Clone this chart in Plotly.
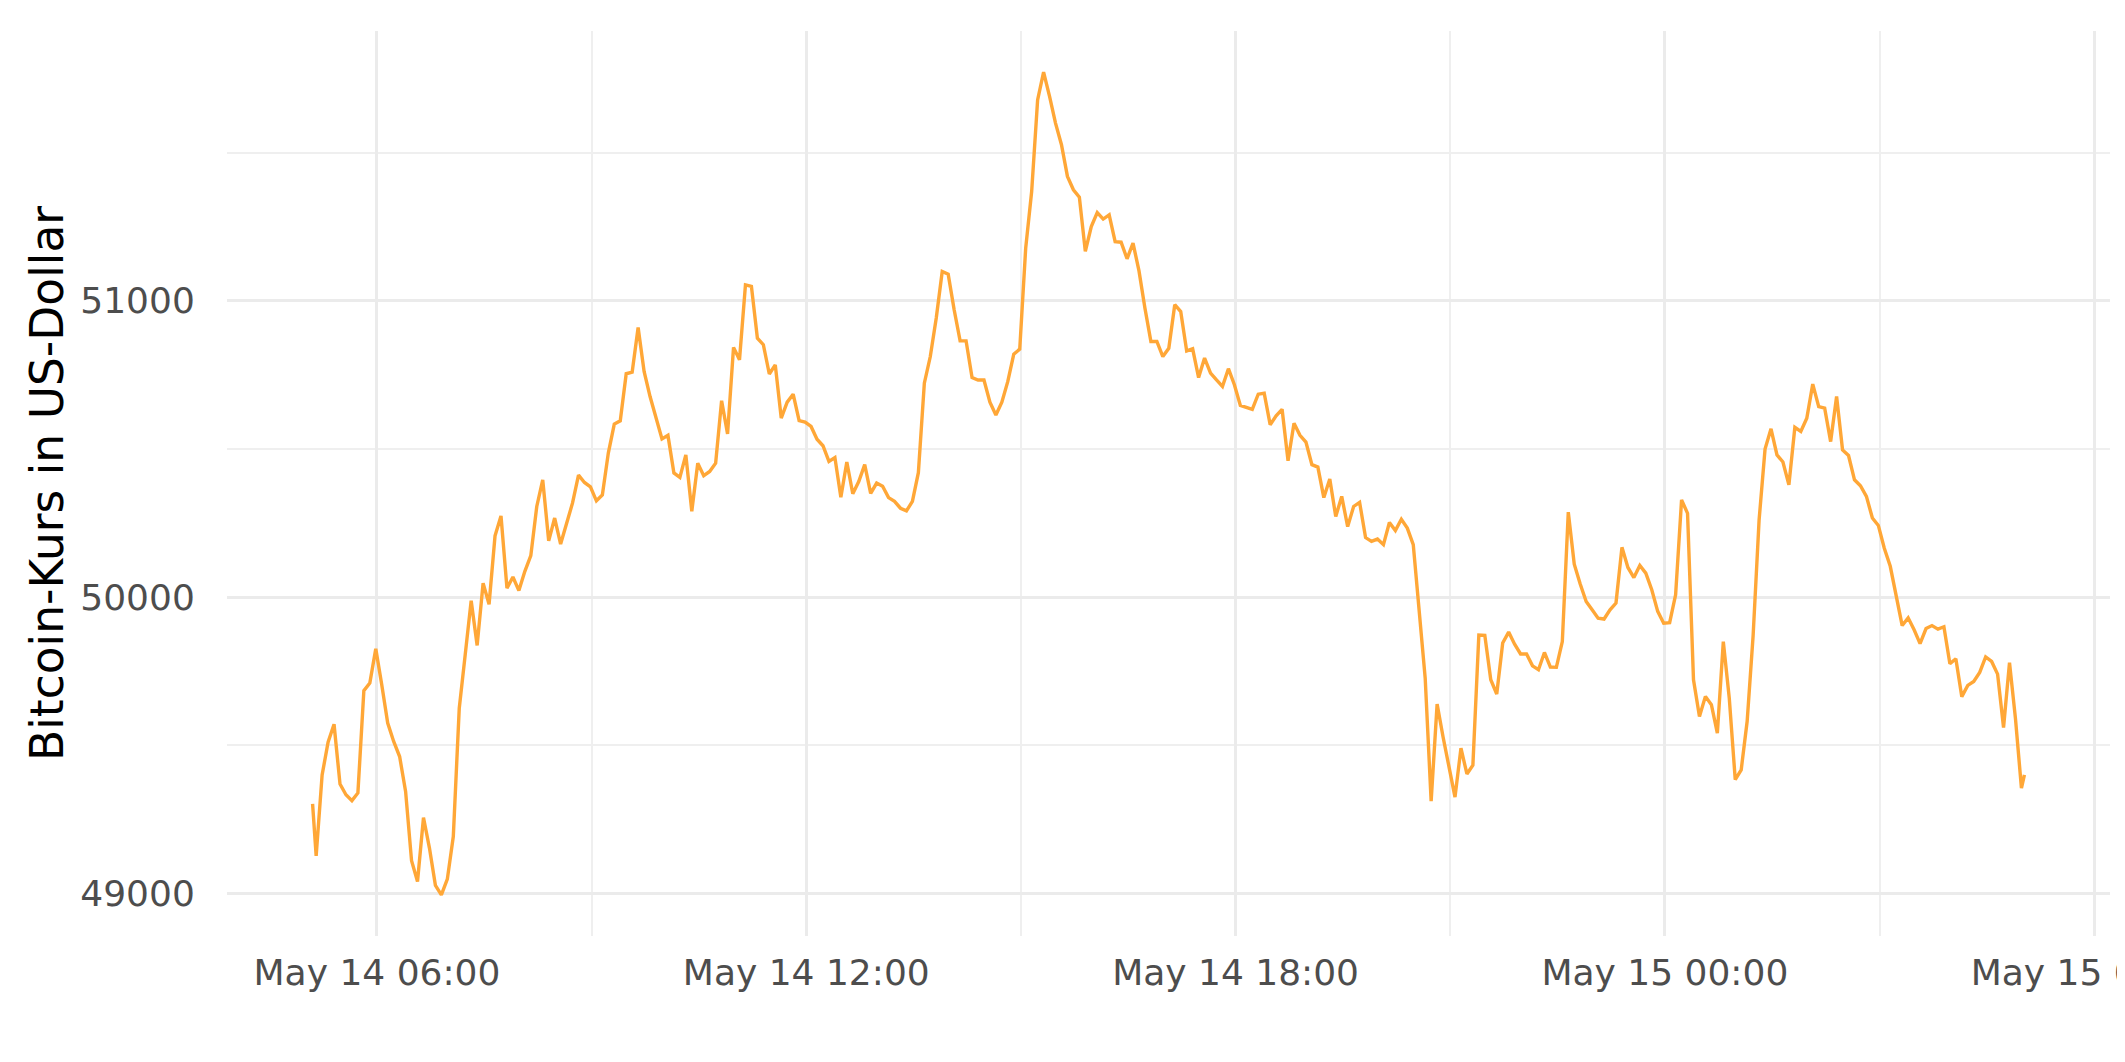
import pandas as pd
import plotly.graph_objects as go

# ---- data ----
first_time = "2021-05-14 05:06:00"
first_price = 49302
grid_start = "2021-05-14 05:09:00"
grid_end = "2021-05-15 04:59:00"
last_time = "2021-05-15 05:01:30"
last_price = 49400

grid_prices = [
    # 05:09 .. 05:59
    49127, 49400, 49510, 49571, 49369, 49333, 49313, 49339, 49684, 49710, 49826,
    # 06
    49704, 49575, 49513, 49462, 49344, 49110, 49040, 49256, 49153, 49027, 48995, 49048,
    # 07
    49192, 49625, 49806, 49988, 49837, 50047, 49976, 50207, 50274, 50030, 50068, 50022,
    # 08
    50087, 50140, 50306, 50396, 50190, 50267, 50179, 50244, 50318, 50412, 50387, 50372,
    # 09
    50325, 50345, 50486, 50584, 50595, 50754, 50759, 50910, 50762, 50677, 50604, 50534,
    # 10
    50546, 50419, 50404, 50480, 50290, 50452, 50410, 50424, 50452, 50663, 50551, 50843,
    # 11
    50801, 51054, 51049, 50874, 50852, 50753, 50784, 50604, 50658, 50685, 50596, 50591,
    # 12
    50576, 50533, 50511, 50458, 50471, 50337, 50456, 50349, 50390, 50447, 50350, 50385,
    # 13
    50374, 50336, 50323, 50300, 50291, 50323, 50420, 50722, 50812, 50942, 51099, 51090,
    # 14
    50970, 50865, 50865, 50741, 50733, 50733, 50658, 50615, 50658, 50728, 50820, 50837,
    # 15
    51178, 51369, 51678, 51772, 51690, 51600, 51527, 51420, 51375, 51350, 51167, 51251,
    # 16
    51298, 51276, 51290, 51200, 51198, 51142, 51195, 51101, 50975, 50863, 50863, 50812,
    # 17
    50840, 50987, 50964, 50831, 50838, 50741, 50807, 50756, 50733, 50711, 50771, 50717,
    # 18
    50647, 50641, 50634, 50685, 50688, 50582, 50612, 50634, 50460, 50587, 50546, 50523,
    # 19
    50447, 50439, 50336, 50399, 50272, 50340, 50238, 50306, 50320, 50201, 50188, 50196,
    # 20
    50177, 50252, 50225, 50263, 50233, 50177, 49950, 49727, 49311, 49639, 49528, 49423,
    # 21
    49325, 49490, 49403, 49433, 49872, 49871, 49721, 49673, 49845, 49882, 49841, 49808,
    # 22
    49808, 49768, 49755, 49813, 49764, 49763, 49850, 50287, 50111, 50044, 49985, 49957,
    # 23
    49929, 49926, 49957, 49980, 50168, 50100, 50066, 50107, 50081, 50025, 49952, 49912,
    # 00
    49914, 50008, 50328, 50283, 49721, 49597, 49665, 49637, 49541, 49850, 49659, 49384,
    # 01
    49417, 49581, 49870, 50260, 50500, 50568, 50480, 50456, 50379, 50573, 50559, 50604,
    # 02
    50719, 50643, 50638, 50525, 50677, 50497, 50478, 50396, 50376, 50340, 50267, 50242,
    # 03
    50165, 50104, 50000, 49904, 49930, 49890, 49843, 49894, 49904, 49892, 49900, 49775,
    # 04
    49792, 49664, 49702, 49715, 49746, 49798, 49783, 49740, 49560, 49779, 49590, 49355,
]

y_title = "Bitcoin-Kurs in US-Dollar"
line_color = "#FFA737"

# ---- build series ----
grid_times = pd.date_range(grid_start, grid_end, freq="5min")
times = [pd.Timestamp(first_time)] + list(grid_times) + [pd.Timestamp(last_time)]
prices = [first_price] + grid_prices[: len(grid_times)] + [last_price]

t_min, t_max = min(times), max(times)
t_pad = (t_max - t_min) * 0.05
p_min, p_max = min(prices), max(prices)
p_pad = (p_max - p_min) * 0.05

W, H = 2125, 1062
ML, MR, MT, MB = 219, 23, 23, 134

fig = go.Figure()
fig.add_trace(go.Scatter(x=times, y=prices, mode="lines",
                         line=dict(color=line_color, width=3.4),
                         hoverinfo="skip"))

tick_font = dict(family="DejaVu Sans", size=36, color="#4D4D4D")
fig.update_layout(
    width=W, height=H,
    margin=dict(l=ML, r=MR, t=MT, b=MB),
    paper_bgcolor="white", plot_bgcolor="white",
    showlegend=False,
    font=dict(family="DejaVu Sans"),
    xaxis=dict(
        range=[t_min - t_pad, t_max + t_pad],
        tick0="2021-05-14 00:00", dtick=6 * 3600 * 1000,
        tickformat="%b %d %H:%M",
        showgrid=True, gridcolor="#EBEBEB", gridwidth=3.2,
        minor=dict(dtick=3 * 3600 * 1000, tick0="2021-05-14 00:00",
                   showgrid=True, gridcolor="#EFEFEF", gridwidth=1.6),
        zeroline=False, showline=False,
        ticks="outside", ticklen=5, tickcolor="rgba(0,0,0,0)",
        tickfont=tick_font, automargin=False, ticklabeloverflow="allow",
    ),
    yaxis=dict(
        range=[p_min - p_pad, p_max + p_pad],
        tick0=49000, dtick=1000, tickformat="d",
        showgrid=True, gridcolor="#EBEBEB", gridwidth=3.2,
        minor=dict(dtick=500, showgrid=True, gridcolor="#EFEFEF", gridwidth=1.6),
        zeroline=False, showline=False,
        ticks="outside", ticklen=24, tickcolor="rgba(0,0,0,0)",
        tickfont=tick_font, automargin=False,
    ),
    annotations=[dict(
        text=y_title, xref="paper", yref="paper",
        x=(39.5 - ML) / (W - ML - MR), y=0.5,
        xanchor="center", yanchor="middle", textangle=-90, showarrow=False,
        font=dict(family="DejaVu Sans", size=45.5, color="black"),
    )],
)

fig.write_html("out.html")
